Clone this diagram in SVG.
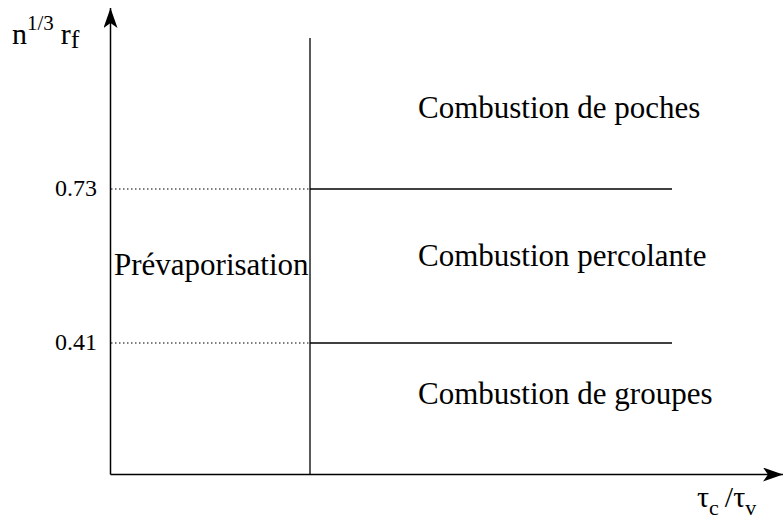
<svg xmlns="http://www.w3.org/2000/svg" width="783" height="524" viewBox="0 0 783 524">
<style>
text{font-family:"Liberation Serif","Times New Roman",serif;fill:#000}
.lbl{font-size:31px}
.tick{font-size:24px}
.ax{stroke:#000;stroke-width:1.5;fill:none}
.ln{stroke:#000;stroke-width:1.3;fill:none}
.dot{stroke:#000;stroke-width:1.2;stroke-dasharray:1.5 2.5;fill:none}
</style>
<defs>
<marker id="arr" viewBox="0 0 20 14" refX="20" refY="7" markerWidth="20" markerHeight="14" markerUnits="userSpaceOnUse" orient="auto">
<path d="M0,0 L20,7 L0,14 L5,7 Z" fill="#000"/>
</marker>
</defs>
<g id="axes">
<path class="ax" d="M110.5,474.5 L110.5,8" marker-end="url(#arr)"/>
<path class="ax" d="M110.5,474.5 L783,474.5" marker-end="url(#arr)"/>
</g>
<g id="connectors">
<path class="ln" d="M310,38 L310,474"/>
<path class="ln" d="M310,189 L672,189"/>
<path class="ln" d="M310,343 L672,343"/>
<path class="dot" d="M111,189 L310,189"/>
<path class="dot" d="M111,343 L310,343"/>
</g>
<g id="ylabel">
<text x="12" y="44" font-size="30">n<tspan font-size="21" dy="-14">1/3</tspan><tspan dy="14" dx="7">r</tspan><tspan font-size="26" dy="4">f</tspan></text>
</g>
<g id="xlabel">
<text x="697" y="507" font-size="30">τ<tspan font-size="22" dy="8">c</tspan><tspan dy="-8" dx="6">/τ</tspan><tspan font-size="22" dy="8">v</tspan></text>
</g>
<g id="ticks">
<text class="tick" x="97" y="196" text-anchor="end">0.73</text>
<text class="tick" x="97" y="350" text-anchor="end">0.41</text>
</g>
<g id="prevap"><text class="lbl" x="114" y="275">Prévaporisation</text></g>
<g id="poches"><text class="lbl" x="418" y="118">Combustion de poches</text></g>
<g id="percolante"><text class="lbl" x="418" y="266">Combustion percolante</text></g>
<g id="groupes"><text class="lbl" x="418" y="404">Combustion de groupes</text></g>
</svg>
